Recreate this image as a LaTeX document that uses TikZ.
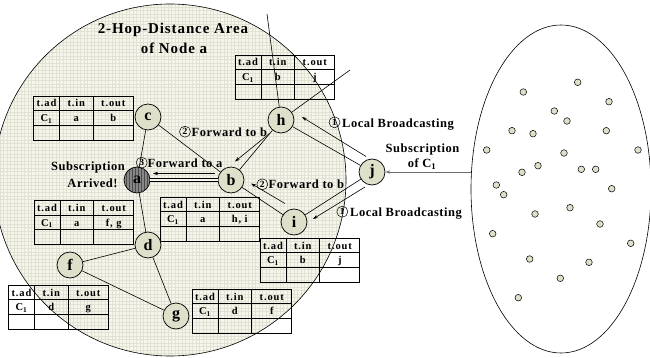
\documentclass[tikz,border=0pt]{standalone}
\usepackage{fontspec}
\setmainfont{Liberation Serif}
\newfontfamily\lblfont[LetterSpace=4]{Liberation Serif}
\newfontfamily\ttlfont[LetterSpace=6]{Liberation Serif}
\newfontfamily\tabfont[LetterSpace=8]{Liberation Serif}
\usetikzlibrary{arrows.meta,patterns}

\definecolor{areafill}{RGB}{246,246,236}
\definecolor{areagrid}{RGB}{226,226,212}
\definecolor{hostfill}{RGB}{222,224,202}
\definecolor{srcfill}{RGB}{135,135,135}
\definecolor{feedgray}{RGB}{110,110,110}

\tikzset{
  host/.style={circle, draw, line width=0.7pt, fill=hostfill, minimum size=26pt,
    inner sep=0pt, font=\fontsize{16}{16}\selectfont\bfseries},
  dot/.style={circle, draw, line width=0.5pt, fill=hostfill, minimum size=6.6pt, inner sep=0pt},
  link/.style={line width=0.6pt},
  msg/.style={line width=0.6pt, -{Stealth[length=5pt,width=3.4pt]}},
  tabline/.style={line width=0.7pt},
  tabtext/.style={inner sep=0pt, anchor=base, font=\fontsize{10.5}{10.5}\tabfont\bfseries},
  lbl/.style={inner sep=0pt, anchor=base west, font=\fontsize{12.5}{12.5}\lblfont\bfseries},
  lblc/.style={inner sep=0pt, anchor=base, font=\fontsize{12.5}{12.5}\lblfont\bfseries},
  ttl/.style={inner sep=0pt, anchor=base, font=\fontsize{15}{15}\ttlfont\bfseries},
  cnum/.style={circle, draw, line width=0.5pt, minimum size=11pt, inner sep=0pt,
    font=\fontsize{9.5}{9.5}\selectfont\bfseries},
}

% routing table: name, top-left x, top-left y, incoming, outgoing
\newcommand\rtable[5]{%
  \begin{scope}[shift={(#2,#3)}]
    \draw[tabline] (0,0) rectangle (99.5,44);
    \draw[tabline] (26,0) -- (26,44) (59.5,0) -- (59.5,44)
      (0,14.7) -- (99.5,14.7) (0,29.3) -- (99.5,29.3);
    \node[tabtext] (#1-ad) at (13,11) {t.ad};
    \node[tabtext] (#1-in) at (42.75,11) {t.in};
    \node[tabtext] (#1-out) at (79.75,11) {t.out};
    \node[tabtext] (#1-c) at (13,25.7) {C$_{\mathbf 1}$};
    \node[tabtext] (#1-vin) at (42.75,25.7) {#4};
    \node[tabtext] (#1-vout) at (79.75,25.7) {#5};
  \end{scope}}

\begin{document}
\begin{tikzpicture}[x=1pt, y=-1pt]
  \useasboundingbox (0,0) rectangle (650,358);

  % two-hop area with its fine grid
  \fill[areafill] (170,180) circle (176);
  \begin{scope}
    \clip (170,180) circle (176);
    \draw[areagrid, line width=0.3pt, step=3.5pt] (-10,0) grid (350,360);
  \end{scope}
  \draw[line width=0.6pt] (170,180) circle (176);

  % remote network
  \draw[line width=0.6pt] (561,189) ellipse (90 and 164);
  \foreach \px/\py [count=\k] in {577.7/82.3, 523.3/92, 609/101.7, 554.3/111, 567/121,
      512/130.7, 533/133.7, 606.3/130.7, 486.7/150, 564/153, 638/150, 538/165.7,
      522/172.3, 581.3/169.3, 595.7/169.3, 496.3/185, 503.7/194.7, 611.7/188.7,
      570/207.7, 535/214, 600/224, 492.7/233.7, 630.7/243.3, 529.7/259,
      589/262.3, 560.3/278.3, 518.3/297.7}
    \node[dot] (r\k) at (\px,\py) {};

  % routing tables
  \rtable{th}{235}{55}{b}{j}
  \rtable{tc}{33.5}{96}{a}{b}
  \rtable{td}{34}{200.5}{a}{f, g}
  \rtable{tb}{160}{197}{a}{h, i}
  \rtable{ti}{260}{238}{b}{j}
  \rtable{tf}{8.5}{285}{d}{g}
  \rtable{tg}{192}{289}{d}{f}

  % hosts
  \node[host] (c) at (148,117) {c};
  \node[host] (h) at (281,120) {h};
  \node[host, preaction={fill=srcfill}, pattern=vertical lines,
        pattern color=black!70] (a) at (137,180) {};
  \node[inner sep=0pt, font=\fontsize{16}{16}\selectfont\bfseries] (alabel) at (a) {a};
  \node[host] (b) at (231,180) {b};
  \node[host] (i) at (294,222) {i};
  \node[host] (j) at (372,172) {j};
  \node[host] (d) at (148,245) {d};
  \node[host] (f) at (70,265) {f};
  \node[host] (g) at (176,316) {g};

  % links
  \coordinate (hup) at (267,14);
  \coordinate (hne) at (350,70);
  \draw[link] (c) -- (a);
  \draw[link] (c) -- (b);
  \draw[link, double=areafill, double distance=2.6pt, line width=0.5pt] (a) -- (b);
  \draw[link] (a) -- (d);
  \draw[link] (b) -- (h);
  \draw[link] (b) -- (i);
  \draw[link] (h) -- (j);
  \draw[link] (i) -- (j);
  \draw[link] (d) -- (f);
  \draw[link] (d) -- (g);
  \draw[link] (f) -- (g);
  \draw[link] (h) -- (hup);
  \draw[link] (h) -- (hne);

  % subscription messages
  \coordinate (mja1) at (366,156.5);
  \coordinate (mja2) at (302,117);
  \coordinate (mji1) at (365,187);
  \coordinate (mji2) at (313,219);
  \coordinate (mhb1) at (269.5,133.5);
  \coordinate (mhb2) at (235,161.5);
  \coordinate (mib1) at (285,203.5);
  \coordinate (mib2) at (251,183.5);
  \coordinate (mba1) at (215,173.5);
  \coordinate (mba2) at (153,173.5);
  \coordinate (feed) at (471,172);
  \draw[msg] (mja1) -- (mja2);
  \draw[msg] (mji1) -- (mji2);
  \draw[msg] (mhb1) -- (mhb2);
  \draw[msg] (mib1) -- (mib2);
  \draw[msg] (mba1) -- (mba2);
  \draw[msg, feedgray, line width=0.8pt] (feed) -- (j);

  % labels
  \node[ttl] (title1) at (173,34) {2-Hop-Distance Area};
  \node[ttl] (title2) at (174,53.5) {of Node a};

  \node[cnum] (n1) at (334.5,122.3) {1};
  \node[lbl] (l1) at (342,128) {Local Broadcasting};
  \node[cnum] (n2) at (342.3,211.7) {1};
  \node[lbl] (l2) at (350,216.5) {Local Broadcasting};
  \node[cnum] (n3) at (185,131.7) {2};
  \node[lbl] (l3) at (191.5,136.5) {Forward to b};
  \node[cnum] (n4) at (262.3,184.3) {2};
  \node[lbl] (l4) at (268.5,188.5) {Forward to b};
  \node[cnum] (n5) at (141.7,162.7) {3};
  \node[lbl] (l5) at (147.5,167.3) {Forward to a};

  \node[lblc] (s1) at (88,171) {Subscription};
  \node[lblc] (s2) at (92.5,187.5) {Arrived!};
  \node[lblc] (s3) at (422.5,152.5) {Subscription};
  \node[lblc] (s4) at (422,167.5) {of C$_{\mathbf 1}$};
\end{tikzpicture}
\end{document}
